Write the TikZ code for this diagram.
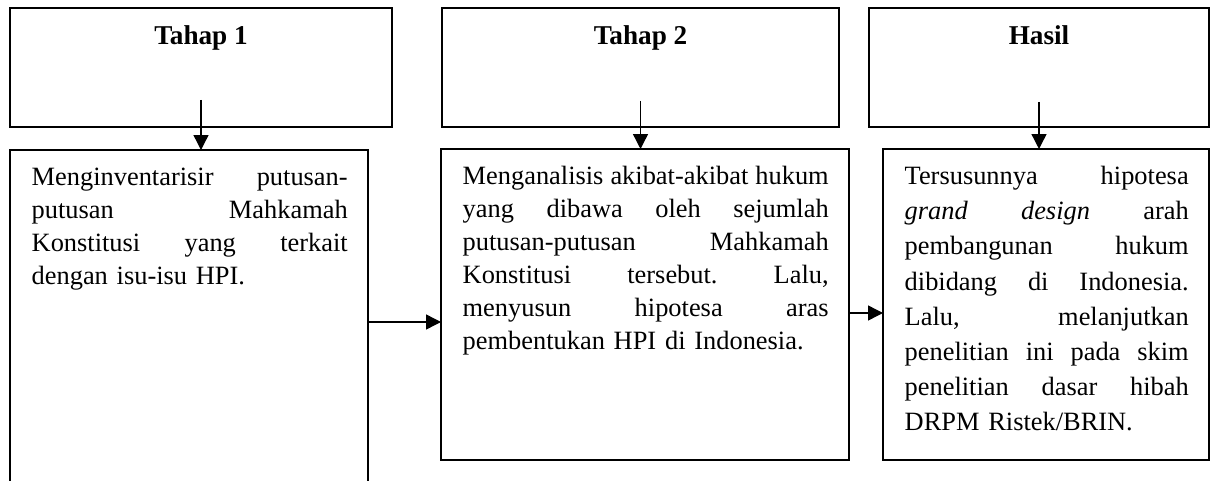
\documentclass[tikz,border=0pt]{standalone}
\usepackage{fontspec}
\setmainfont{Liberation Serif}
\usetikzlibrary{arrows.meta,positioning}
\newcommand{\fline}[1]{\leavevmode\hbox to \hsize{\frenchspacing\spaceskip=0.25em plus 1fil\relax #1}\\}
\begin{document}
\begin{tikzpicture}[x=0.5pt,y=-0.5pt,line width=0.7pt,
  stagebox/.style={draw=black,inner sep=0pt,outer sep=0pt,anchor=north west},
  headbox/.style={stagebox,minimum height=59.5pt},
  headtext/.style={anchor=base,inner sep=0pt,font=\bfseries\fontsize{13.6}{16}\selectfont},
  bodybox/.style={stagebox,minimum height=155.5pt},
  bodytext/.style={anchor=base west,inner sep=0pt,align=left,font=\fontsize{13.2}{16.5}\selectfont},
  link/.style={-{Triangle[length=7.5pt,width=7.5pt]}}]
\def\dtop{-18.25pt};
\def\dpad{10.5pt};

\useasboundingbox (0,0) rectangle (1214,481);

% top row
\node[headbox,minimum width=191pt] (h1) at (10,8) {};
\node[headtext] (h1t) at ([yshift=\dtop]h1.north) {Tahap 1};
\node[headbox,minimum width=198.5pt] (h2) at (442,8) {};
\node[headtext] (h2t) at ([yshift=\dtop]h2.north) {Tahap 2};
\node[headbox,minimum width=170pt] (h3) at (869,8) {};
\node[headtext] (h3t) at ([yshift=\dtop]h3.north) {Hasil};

% bottom row
\node[bodybox,minimum width=179pt,minimum height=200pt] (b1) at (10,150) {};
\node[bodytext,text width=158pt] (b1t) at ([xshift=\dpad,yshift=-17.75pt]b1.north west)
  {\fline{Menginventarisir putusan-}\fline{putusan Mahkamah}\fline{Konstitusi yang terkait}dengan isu-isu HPI.};
\node[bodybox,minimum width=204pt] (b2) at (441,149) {};
\node[bodytext,text width=183pt] (b2t) at ([xshift=\dpad,yshift=-17.75pt]b2.north west)
  {\fline{Menganalisis akibat-akibat hukum}\fline{yang dibawa oleh sejumlah}\fline{putusan-putusan Mahkamah}\fline{Konstitusi tersebut. Lalu,}\fline{menyusun hipotesa aras}pembentukan HPI di Indonesia.};
\node[bodybox,minimum width=163pt] (b3) at (883,149) {};
\node[bodytext,text width=142pt,font=\fontsize{13.2}{17.6}\selectfont] (b3t) at ([xshift=\dpad,yshift=-17.75pt]b3.north west)
  {\fline{Tersusunnya hipotesa}\fline{\textit{grand design} arah}\fline{pembangunan hukum}\fline{dibidang di Indonesia.}\fline{Lalu, melanjutkan}\fline{penelitian ini pada skim}\fline{penelitian dasar hibah}DRPM Ristek/BRIN.};

% arrows
\draw[link] ([yshift=13.5pt]h1.south) -- (h1.south |- b1.north);
\draw[link] ([yshift=13pt]h2.south) -- (h2.south |- b2.north);
\draw[link] ([yshift=12.5pt]h3.south) -- (h3.south |- b3.north);
\coordinate (m1) at ([yshift=-8.75pt]b2.west);
\draw[link] (m1 -| b1.east) -- (m1);
\coordinate (m2) at ([yshift=-4.25pt]b3.west);
\draw[link] (m2 -| b2.east) -- (m2);
\end{tikzpicture}
\end{document}
